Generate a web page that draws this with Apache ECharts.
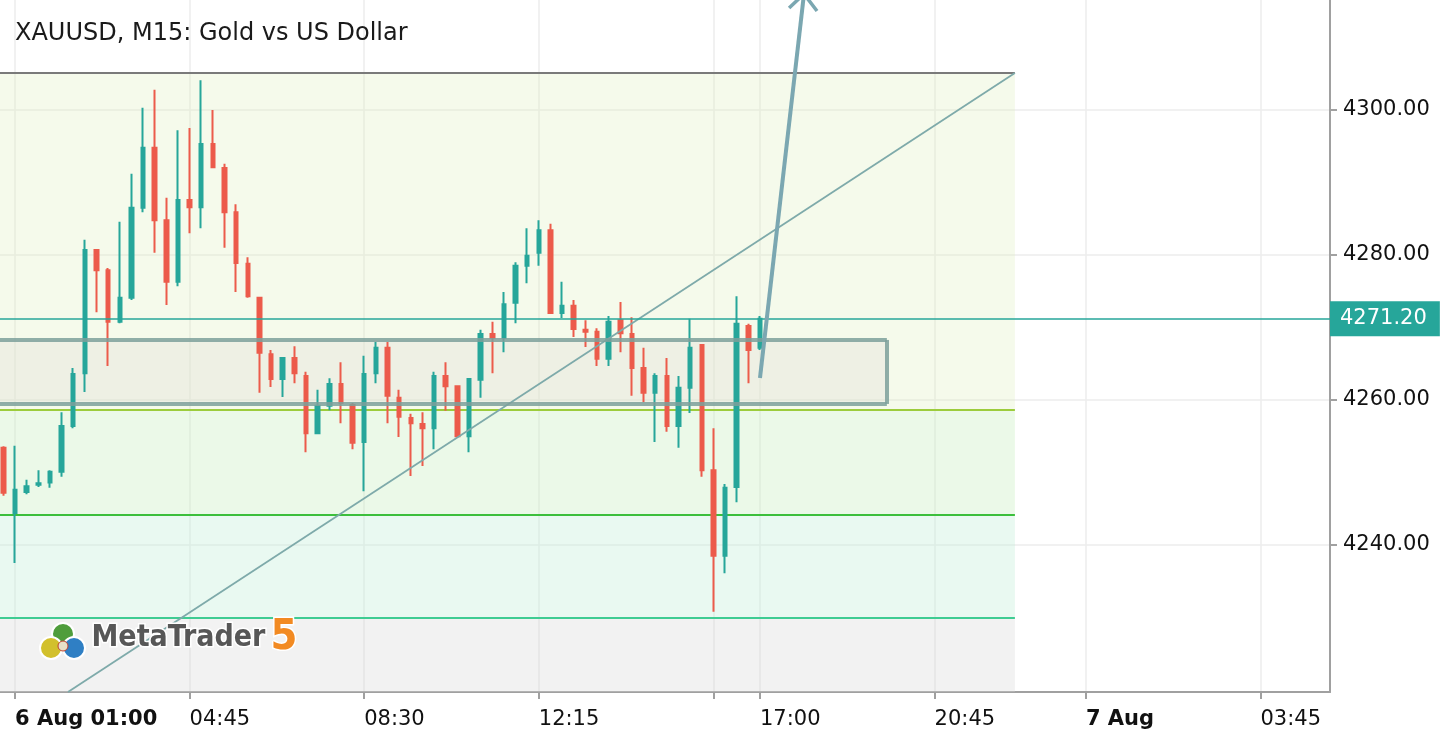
<!DOCTYPE html>
<html><head><meta charset="utf-8">
<script src="https://cdn.jsdelivr.net/npm/echarts@6/dist/echarts.min.js"></script>
<style>html,body{margin:0;padding:0;background:#fff}#c{width:1442px;height:740px}</style>
</head><body><div id="c"></div><script>
// ---- data (bar index 0 = 6 Aug 01:00, one bar = 15 min) ----
const firstIndex = -1; // first bar is 00:45
const opens  = [4253.4,4244.4,4247.3,4248.3,4248.6,4250.1,4256.4,4263.7,4280.7,4277.9,4270.8,4274.1,4286.5,4294.8,4284.8,4276.3,4287.6,4286.6,4295.3,4292.0,4285.9,4278.8,4274.1,4266.3,4262.9,4265.8,4263.3,4255.4,4259.2,4262.2,4259.3,4254.2,4263.7,4267.2,4260.3,4257.5,4256.7,4256.1,4263.3,4261.9,4255.0,4262.8,4269.1,4268.6,4273.4,4278.5,4280.3,4283.4,4272.0,4273.0,4269.7,4269.4,4265.7,4271.0,4269.1,4264.4,4261.0,4263.3,4256.4,4261.7,4267.6,4250.3,4238.5,4248.0,4270.2,4267.2];
const highs  = [4253.6,4253.7,4249.0,4250.3,4250.3,4258.3,4264.4,4282.1,4280.8,4278.2,4284.6,4291.2,4300.3,4302.8,4287.9,4297.2,4297.5,4304.1,4300.0,4292.6,4287.0,4279.7,4274.2,4266.9,4265.9,4267.4,4263.9,4261.4,4263.0,4265.2,4259.6,4266.1,4268.0,4268.0,4261.4,4258.1,4258.3,4263.9,4265.2,4262.0,4263.0,4269.7,4270.8,4274.9,4279.0,4283.7,4284.8,4284.3,4276.3,4273.8,4271.0,4269.9,4271.6,4273.5,4271.4,4267.2,4263.7,4265.8,4263.3,4271.2,4267.7,4256.1,4248.4,4274.3,4270.5,4271.6];
const lows   = [4246.8,4237.5,4247.0,4248.0,4247.9,4249.4,4256.1,4261.1,4272.1,4264.7,4270.6,4273.8,4285.9,4280.3,4273.1,4275.7,4283.0,4283.7,4292.0,4281.0,4274.9,4274.1,4261.0,4261.8,4260.4,4262.3,4252.8,4255.3,4258.6,4256.8,4253.2,4247.4,4262.3,4256.8,4254.9,4249.5,4250.9,4253.2,4258.5,4254.9,4252.8,4260.3,4263.7,4266.6,4270.6,4276.1,4278.5,4271.9,4271.3,4268.7,4267.3,4264.7,4264.7,4266.6,4260.6,4259.7,4254.2,4255.6,4253.4,4258.2,4249.4,4230.8,4236.1,4245.9,4262.3,4266.9];
const closes = [4247.2,4247.6,4248.1,4248.5,4250.1,4256.4,4263.6,4280.7,4277.9,4270.8,4274.1,4286.5,4294.8,4284.8,4276.3,4287.6,4286.6,4295.3,4292.1,4285.9,4278.9,4274.3,4266.5,4262.9,4265.8,4263.7,4255.4,4259.2,4262.2,4259.6,4254.1,4263.6,4267.2,4260.6,4257.7,4256.8,4256.1,4263.3,4261.9,4255.0,4262.9,4269.1,4268.6,4273.2,4278.5,4279.9,4283.4,4272.0,4273.0,4269.8,4269.4,4265.7,4270.8,4269.2,4264.4,4261.0,4263.3,4256.4,4261.7,4267.2,4250.3,4238.5,4247.9,4270.5,4266.9,4271.2];

const tickPositions = [0, 15, 30, 45, 60, 64, 79, 92, 107];
const tickLabels = ['6 Aug 01:00', '04:45', '08:30', '12:15', '', '17:00', '20:45', '7 Aug', '03:45'];
const boldTickLabels = ['6 Aug 01:00', '7 Aug'];
const priceTicks = [4240, 4260, 4280, 4300];
const lastPrice = 4271.20;

// analysis objects (time index, price)
const zoneLevels = [4305.1, 4258.62, 4244.14, 4229.93];
const zoneEnd = 85.9;
const boxTop = 4268.28, boxBottom = 4259.45, boxEnd = 74.9;
const trendLine = [[4.55, 4219.72], [85.9, 4305.1]];
const arrowShaft = [[64.0, 4263.03], [67.78, 4316.0]];
const arrowHead = [[66.5, 4314.07], [67.78, 4316.0], [68.9, 4313.66]];

const xMin = -1.289, xMax = 112.97, yMin = 4219.72, yMax = 4315.17;

// ---- build ----
const candles = opens.map((o, i) => [i + firstIndex, o, closes[i], lows[i], highs[i]]);
const seg = (x1, y1, x2, y2, style) => [{ coord: [x1, y1], lineStyle: style }, { coord: [x2, y2] }];
const FONT = 'DejaVu Sans';
const UP = '#26a69a', DOWN = '#ec5b4b';

const chart = echarts.init(document.getElementById('c'), null, { renderer: 'canvas' });
chart.setOption({
  animation: false,
  backgroundColor: '#ffffff',
  title: {
    text: 'XAUUSD, M15: Gold vs US Dollar', left: 15, top: 22, padding: 0,
    textStyle: { fontFamily: FONT, fontSize: 24, fontWeight: 'normal', color: '#1a1a1a' }
  },
  grid: { left: 0, right: 112, top: 0, bottom: 48 },
  xAxis: {
    type: 'value', min: xMin, max: xMax,
    axisLine: { show: true, onZero: false, lineStyle: { color: '#a0a0a0', width: 2 } },
    axisTick: { show: true, length: 7, customValues: tickPositions, lineStyle: { color: '#a0a0a0', width: 2 } },
    axisLabel: {
      customValues: tickPositions, margin: 17, align: 'left',
      fontFamily: FONT, fontSize: 21, color: '#111',
      formatter: v => {
        const i = tickPositions.indexOf(Math.round(v));
        const t = i >= 0 ? tickLabels[i] : '';
        return boldTickLabels.includes(t) ? '{b|' + t + '}' : t;
      },
      rich: { b: { fontFamily: FONT, fontSize: 21, fontWeight: 'bold', color: '#111' } }
    },
    splitLine: { show: true, lineStyle: { color: '#ececec', width: 1.5 } }
  },
  yAxis: {
    type: 'value', position: 'right', min: yMin, max: yMax, scale: true,
    axisLine: { show: true, onZero: false, lineStyle: { color: '#a0a0a0', width: 2 } },
    axisTick: { show: true, length: 7, customValues: priceTicks, lineStyle: { color: '#a0a0a0', width: 2 } },
    axisLabel: {
      customValues: priceTicks, margin: 13, fontFamily: FONT, fontSize: 21, color: '#111',
      formatter: v => v.toFixed(2)
    },
    splitLine: { show: true, lineStyle: { color: '#ececec', width: 1.5 } }
  },
  series: [
    {
      name: 'zones', type: 'line', data: [[xMin, yMin]], showSymbol: false, symbol: 'none',
      lineStyle: { width: 0 }, silent: true, z: 0,
      markArea: {
        silent: true,
        data: [
          [{ coord: [xMin, zoneLevels[0]], itemStyle: { color: 'rgba(225,240,195,0.33)' } }, { coord: [zoneEnd, zoneLevels[1]] }],
          [{ coord: [xMin, zoneLevels[1]], itemStyle: { color: 'rgba(200,238,190,0.36)' } }, { coord: [zoneEnd, zoneLevels[2]] }],
          [{ coord: [xMin, zoneLevels[2]], itemStyle: { color: 'rgba(190,238,215,0.34)' } }, { coord: [zoneEnd, zoneLevels[3]] }],
          [{ coord: [xMin, zoneLevels[3]], itemStyle: { color: 'rgba(215,215,215,0.33)' } }, { coord: [zoneEnd, yMin] }],
          [{ coord: [xMin, boxTop], itemStyle: { color: 'rgba(225,222,215,0.32)' } }, { coord: [boxEnd, boxBottom] }]
        ]
      },
      markLine: {
        silent: true, symbol: ['none', 'none'], label: { show: false }, z: 1,
        data: [
          seg(xMin, zoneLevels[0], zoneEnd, zoneLevels[0], { color: '#7a7a7a', width: 2, type: 'solid' }),
          seg(xMin, zoneLevels[1], zoneEnd, zoneLevels[1], { color: '#9ccc3c', width: 2, type: 'solid' }),
          seg(xMin, zoneLevels[2], zoneEnd, zoneLevels[2], { color: '#3cbf3c', width: 2, type: 'solid' }),
          seg(xMin, zoneLevels[3], zoneEnd, zoneLevels[3], { color: '#3fcc93', width: 2, type: 'solid' })
        ]
      }
    },
    {
      name: 'XAUUSD', type: 'candlestick', data: candles, z: 3,
      encode: { x: 0, y: [1, 2, 3, 4] },
      barWidth: 4,
      itemStyle: { color: UP, color0: DOWN, borderColor: UP, borderColor0: DOWN, borderWidth: 2 },
      markLine: {
        silent: true, symbol: ['none', 'none'],
        lineStyle: { color: '#26a69a', width: 1.5, type: 'solid' },
        label: {
          show: true, position: 'end', distance: 0, formatter: () => lastPrice.toFixed(2),
          backgroundColor: '#26a69a', color: '#ffffff', fontFamily: FONT, fontSize: 21,
          padding: [7, 13, 7, 10]
        },
        data: [{ yAxis: lastPrice }]
      }
    },
    {
      name: 'box', type: 'line', data: [[xMin, yMin]], showSymbol: false, symbol: 'none',
      lineStyle: { width: 0 }, silent: true, z: 4,
      markLine: {
        silent: true, symbol: ['none', 'none'], label: { show: false },
        data: [
          seg(xMin, boxTop, boxEnd, boxTop, { color: 'rgba(125,160,155,0.85)', width: 4, type: 'solid' }),
          seg(xMin, boxBottom, boxEnd, boxBottom, { color: 'rgba(125,160,155,0.85)', width: 4, type: 'solid' }),
          seg(boxEnd, boxTop, boxEnd, boxBottom, { color: 'rgba(125,160,155,0.85)', width: 4, type: 'solid' })
        ]
      }
    },
    {
      name: 'trend', type: 'line', data: trendLine, showSymbol: false, symbol: 'none', silent: true, z: 4,
      lineStyle: { color: '#7eaaaa', width: 1.8 }
    },
    {
      name: 'arrow', type: 'line', data: arrowShaft, showSymbol: false, symbol: 'none', silent: true, z: 5,
      clip: false, lineStyle: { color: '#7ba7b1', width: 4 }
    },
    {
      name: 'arrowHead', type: 'line', data: arrowHead, showSymbol: false, symbol: 'none', silent: true, z: 5,
      clip: false, lineStyle: { color: '#7ba7b1', width: 3.5 }
    }
  ],
  graphic: [
    { type: 'circle', shape: { cx: 63, cy: 634, r: 11 }, style: { fill: '#4f9d3c', stroke: '#fff', lineWidth: 2 }, z: 10 },
    { type: 'circle', shape: { cx: 51, cy: 648, r: 11 }, style: { fill: '#d2c02c', stroke: '#fff', lineWidth: 2 }, z: 10 },
    { type: 'circle', shape: { cx: 74, cy: 648, r: 11 }, style: { fill: '#2f7fc4', stroke: '#fff', lineWidth: 2 }, z: 10 },
    { type: 'circle', shape: { cx: 63, cy: 646, r: 5 }, style: { fill: '#e8e0c8', stroke: '#c04030', lineWidth: 1 }, z: 11 },
    {
      type: 'text', left: 90, top: 622, z: 10,
      style: { text: 'MetaTrader', font: 'bold 30px "DejaVu Sans Condensed", "DejaVu Sans"', fill: '#575757', stroke: '#ffffff', lineWidth: 3 }
    },
    {
      type: 'text', left: 269, top: 615, z: 10,
      style: { text: '5', font: 'bold 43px "DejaVu Sans Condensed", "DejaVu Sans"', fill: '#f28a22', stroke: '#ffffff', lineWidth: 3 }
    }
  ]
});
</script></body></html>
